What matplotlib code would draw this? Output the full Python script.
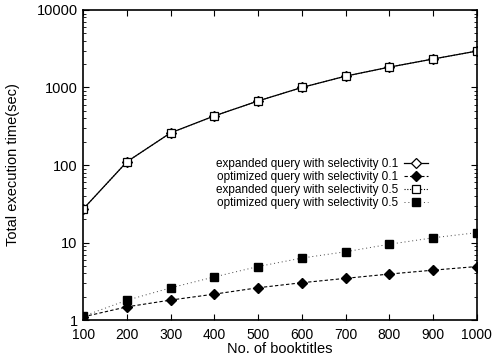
import matplotlib
matplotlib.use("Agg")
import matplotlib.pyplot as plt
from matplotlib.ticker import LogLocator, NullFormatter, FixedLocator

plt.rcParams['font.family'] = ['Liberation Sans', 'DejaVu Sans']

booktitles = [100, 200, 300, 400, 500, 600, 700, 800, 900, 1000]
expanded_01 = [27, 110, 260, 430, 670, 1000, 1400, 1830, 2330, 2950]
optimized_01 = [1.1, 1.48, 1.81, 2.16, 2.61, 3.03, 3.45, 3.92, 4.4, 4.9]
expanded_05 = [27, 110, 260, 430, 670, 1000, 1400, 1830, 2330, 2950]
optimized_05 = [1.12, 1.8, 2.6, 3.6, 4.9, 6.3, 7.6, 9.5, 11.5, 13.4]

labels = [
    "expanded query with selectivity 0.1",
    "optimized query with selectivity 0.1",
    "expanded query with selectivity 0.5",
    "optimized query with selectivity 0.5",
]

fig = plt.figure(figsize=(4.92, 3.56), dpi=100)
ax = fig.add_axes([0.169, 0.101, 0.800, 0.871])

ax.plot(booktitles, expanded_01, color='black', lw=0.9, ls='-',
        marker='D', ms=5.5, mfc='white', mec='black', mew=0.9, label=labels[0])
ax.plot(booktitles, optimized_01, color='black', lw=0.8, ls=(0, (3, 2)),
        marker='D', ms=5.5, mfc='black', mec='black', label=labels[1])
ax.plot(booktitles, expanded_05, color='black', lw=0.8, ls=(0, (1, 1.5)),
        marker='s', ms=6, mfc='white', mec='black', mew=0.9, label=labels[2])
ax.plot(booktitles, optimized_05, color='#444444', lw=0.7, ls=(0, (1, 3)),
        marker='s', ms=6, mfc='black', mec='black', label=labels[3])

ax.set_yscale('log')
ax.set_xlim(100, 1000)
ax.set_ylim(1, 10000)
ax.xaxis.set_major_locator(FixedLocator(booktitles))
ax.yaxis.set_minor_locator(LogLocator(base=10, subs=range(2, 10), numticks=10))
ax.yaxis.set_minor_formatter(NullFormatter())
ax.set_yticks([1, 10, 100, 1000, 10000])
ax.set_yticklabels(['1', '10', '100', '1000', '10000'])

ax.tick_params(which='both', direction='in', top=True, right=True, labelsize=10.5)
ax.tick_params(which='major', length=4, width=0.8)
ax.tick_params(which='minor', length=2, width=0.6)
ax.tick_params(axis='x', pad=6, labelsize=10)
ax.tick_params(axis='y', pad=4)
for s in ax.spines.values():
    s.set_linewidth(1.2)

ax.set_xlabel("No. of booktitles", fontsize=10.5, labelpad=0)
ax.set_ylabel("Total execution time(sec)", fontsize=10.5, labelpad=12)

ax.legend(loc='center right', bbox_to_anchor=(0.875, 0.44), frameon=False,
          markerfirst=False, fontsize=8.5, handlelength=2.0, handletextpad=0.5,
          labelspacing=0.1, borderaxespad=0, borderpad=0)

fig.savefig("out.png", dpi=100)
